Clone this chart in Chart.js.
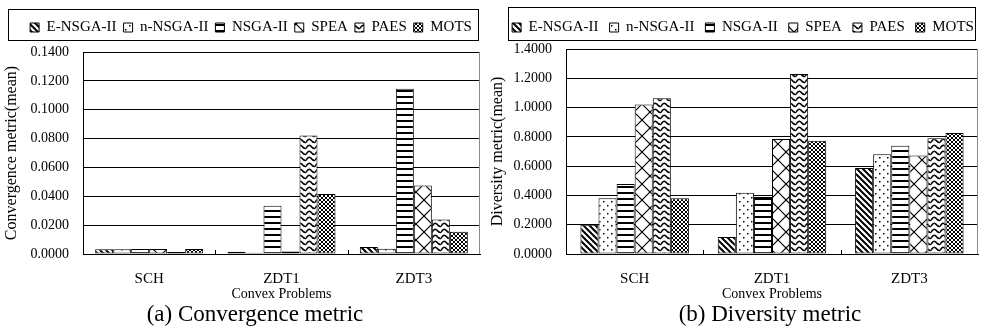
<!DOCTYPE html>
<html>
<head>
<meta charset="utf-8">
<script src="https://cdn.jsdelivr.net/npm/chart.js@4.4.0/dist/chart.umd.min.js"></script>
<style>
  body { margin: 0; background: #fff; }
  #wrap { position: relative; width: 981px; height: 333px; overflow: hidden; }
  #left { position: absolute; left: 0; top: 0; }
  #right { position: absolute; left: 490px; top: 0; }
  .cap { position: absolute; top: 301px; width: 300px; text-align: center;
         font-family: "Liberation Serif", serif; font-size: 23px; color: #000; }
</style>
</head>
<body>
<div id="wrap">
  <canvas id="left" width="490" height="305"></canvas>
  <canvas id="right" width="491" height="305"></canvas>
  <div class="cap" style="left:105px">(a) Convergence metric</div>
  <div class="cap" style="left:620px">(b) Diversity metric</div>
</div>
<script>
// problems on the x axis, algorithms as series
const problems = ['SCH', 'ZDT1', 'ZDT3'];
const algorithms = ['E-NSGA-II', 'n-NSGA-II', 'NSGA-II', 'SPEA', 'PAES', 'MOTS'];

// convergence metric (mean), one list per algorithm, order = problems
const convENSGA = [0.0033, 0.0016, 0.0049];
const convNNSGA = [0.0033, 0.0009, 0.0037];
const convNSGA  = [0.0034, 0.0335, 0.1145];
const convSPEA  = [0.0034, 0.0018, 0.0475];
const convPAES  = [0.0013, 0.0821, 0.0239];
const convMOTS  = [0.0034, 0.0415, 0.0155];

// diversity metric (mean)
const divENSGA = [0.200, 0.116, 0.587];
const divNNSGA = [0.380, 0.419, 0.681];
const divNSGA  = [0.478, 0.390, 0.739];
const divSPEA  = [1.021, 0.785, 0.673];
const divPAES  = [1.063, 1.230, 0.790];
const divMOTS  = [0.380, 0.774, 0.826];

// y axis tick range
const convTicks = { min: 0, max: 0.14, step: 0.02 };
const divTicks  = { min: 0, max: 1.4, step: 0.2 };

Chart.defaults.font.family = '"Liberation Serif", serif';
Chart.defaults.color = '#000';

/* black & white fill patterns, like the old Excel bar fills */
function tile(ctx, w, h, draw) {
  const c = document.createElement('canvas');
  c.width = w; c.height = h;
  const g = c.getContext('2d');
  g.fillStyle = '#fff';
  g.fillRect(0, 0, w, h);
  g.strokeStyle = '#000';
  g.fillStyle = '#000';
  draw(g, w, h);
  return ctx.createPattern(c, 'repeat');
}

function patterns(ctx) {
  return [
    // E-NSGA-II: thick back-diagonal stripes
    tile(ctx, 6, 6, function(g) {
      g.lineWidth = 2;
      for (let k = -1; k <= 1; k++) {
        g.beginPath(); g.moveTo(-1, -1 + k * 6); g.lineTo(7, 7 + k * 6); g.stroke();
      }
    }),
    // n-NSGA-II: sparse dots
    tile(ctx, 8, 8, function(g) {
      g.fillRect(1, 1, 1.5, 1.5);
      g.fillRect(5, 5, 1.5, 1.5);
    }),
    // NSGA-II: horizontal lines
    tile(ctx, 4, 6, function(g) {
      g.fillRect(0, 0, 4, 2);
    }),
    // SPEA: large cross hatch
    tile(ctx, 16, 16, function(g) {
      g.lineWidth = 1.2;
      g.beginPath(); g.moveTo(0, 0); g.lineTo(16, 16); g.stroke();
      g.beginPath(); g.moveTo(16, 0); g.lineTo(0, 16); g.stroke();
    }),
    // PAES: waves
    tile(ctx, 9, 6, function(g) {
      g.lineWidth = 1.5;
      g.beginPath();
      g.moveTo(0, 4.5);
      g.quadraticCurveTo(2.25, 0, 4.5, 1.8);
      g.quadraticCurveTo(6.75, 4.8, 9, 4.5);
      g.stroke();
    }),
    // MOTS: small dense diamond grid
    tile(ctx, 4, 4, function(g) {
      g.lineWidth = 1;
      g.beginPath(); g.moveTo(0, 0); g.lineTo(4, 4); g.stroke();
      g.beginPath(); g.moveTo(4, 0); g.lineTo(0, 4); g.stroke();
    })
  ];
}

/* legend: fixed height, nudged sideways, frame around it */
const legendFrame = {
  id: 'legendFrame',
  beforeLayout(chart, args, opts) {
    const lg = chart.legend;
    if (lg && !lg._framed) {
      const fit = lg.fit;
      lg.fit = function() { fit.call(this); this.height = opts.height; };
      lg._framed = true;
    }
  },
  afterLayout(chart, args, opts) {
    const lg = chart.legend;
    if (lg) { lg.left += opts.dx; lg.right += opts.dx; }
  },
  afterDraw(chart, args, opts) {
    const ctx = chart.ctx;
    ctx.save();
    ctx.strokeStyle = '#000';
    ctx.lineWidth = 1;
    ctx.strokeRect(opts.x0 + 0.5, opts.y0 + 0.5, opts.x1 - opts.x0, opts.y1 - opts.y0);
    ctx.restore();
  }
};

/* plot area: grey right edge, small inward ticks between categories */
const plotFrame = {
  id: 'plotFrame',
  beforeDatasetsDraw(chart) {
    const a = chart.chartArea, ctx = chart.ctx;
    ctx.save();
    ctx.strokeStyle = '#8a8a8a';
    ctx.lineWidth = 1;
    ctx.beginPath();
    ctx.moveTo(Math.round(a.right) - 0.5, a.top);
    ctx.lineTo(Math.round(a.right) - 0.5, a.bottom);
    ctx.stroke();
    ctx.restore();
  },
  afterDatasetsDraw(chart) {
    const a = chart.chartArea, ctx = chart.ctx, xs = chart.scales.x;
    ctx.save();
    ctx.strokeStyle = '#000';
    ctx.lineWidth = 1;
    for (let i = 1; i < problems.length; i++) {
      const x = Math.round((xs.getPixelForValue(i - 1) + xs.getPixelForValue(i)) / 2) + 0.5;
      ctx.beginPath();
      ctx.moveTo(x, a.bottom);
      ctx.lineTo(x, a.bottom - 4);
      ctx.stroke();
    }
    ctx.restore();
  }
};

function makeChart(id, series, ticks, yTitle, lay) {
  const ctx = document.getElementById(id).getContext('2d');
  const fills = patterns(ctx);
  return new Chart(ctx, {
    type: 'bar',
    data: {
      labels: problems,
      datasets: algorithms.map(function(name, i) {
        return {
          label: name,
          data: series[i],
          backgroundColor: fills[i],
          borderColor: '#000',
          borderWidth: 1,
          borderSkipped: false,
          categoryPercentage: lay.cat,
          barPercentage: 1.0
        };
      })
    },
    options: {
      responsive: false,
      animation: false,
      layout: { padding: { left: 0, right: lay.right, top: lay.top, bottom: 0 } },
      scales: {
        x: {
          grid: { display: false, drawTicks: false },
          border: { color: '#000' },
          ticks: { padding: 16, font: { size: 15 } },
          title: { display: true, text: 'Convex Problems', font: { size: 14 },
                   padding: { top: 0, bottom: 2 } },
          afterFit(s) { s.height = 51; }
        },
        y: {
          min: ticks.min, max: ticks.max,
          grid: { color: '#000', drawTicks: false },
          border: { color: '#000' },
          ticks: { stepSize: ticks.step, padding: 14, font: { size: 14 },
                   callback: function(v) { return v.toFixed(4); } },
          title: { display: true, text: yTitle, font: { size: 16, lineHeight: 1 },
                   padding: { top: lay.yTitle, bottom: 0 } },
          afterFit(s) { s.width = lay.yWidth; }
        }
      },
      plugins: {
        legend: {
          position: 'top',
          labels: { boxWidth: 9, boxHeight: 9, padding: lay.legPad, font: { size: 15 } }
        },
        tooltip: { enabled: false },
        legendFrame: lay.frame
      }
    },
    plugins: [legendFrame, plotFrame]
  });
}

makeChart('left',
  [convENSGA, convNNSGA, convNSGA, convSPEA, convPAES, convMOTS],
  convTicks, 'Convergence metric(mean)',
  { cat: 0.816, right: 10, top: 13, yWidth: 83, yTitle: 4, legPad: 7,
    frame: { height: 39, dx: 11, x0: 8, y0: 9, x1: 478, y1: 40 } });

makeChart('right',
  [divENSGA, divNNSGA, divNSGA, divSPEA, divPAES, divMOTS],
  divTicks, 'Diversity metric(mean)',
  { cat: 0.79, right: 3, top: 9, yWidth: 76, yTitle: 0, legPad: 11,
    frame: { height: 40, dx: 9, x0: 18, y0: 7, x1: 485, y1: 40 } });
</script>
</body>
</html>
